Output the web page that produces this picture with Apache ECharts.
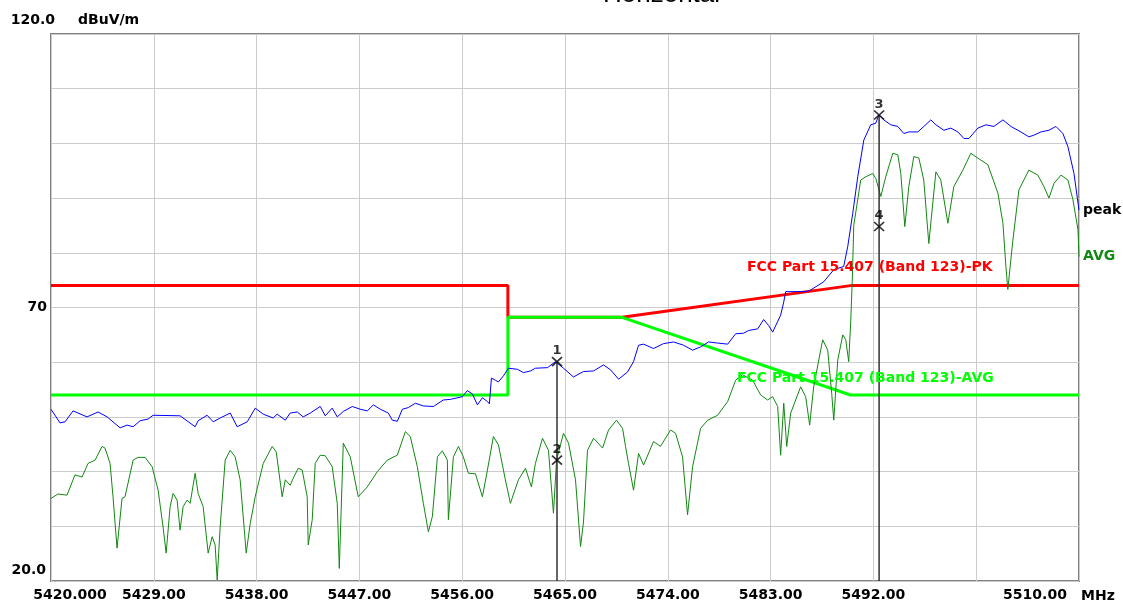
<!DOCTYPE html>
<html>
<head>
<meta charset="utf-8">
<script src="https://cdn.jsdelivr.net/npm/echarts@6/dist/echarts.min.js"></script>
<style>
  html, body { margin: 0; padding: 0; background: #fff; }
  #main { width: 1123px; height: 606px; }
</style>
</head>
<body>
<div id="main"></div>
<script>
// tick labels
var xTickLabels = ['5420.000', '5429.00', '5438.00', '5447.00', '5456.00', '5465.00',
  '5474.00', '5483.00', '5492.00', '', '5510.00'];
var yTickLabels = ['20.0', '', '', '', '', '70', '', '', '', '', '120.0'];

// peak trace (MHz, dBuV/m)
var peakFreq = [5420.00, 5420.79, 5421.23, 5421.93, 5423.15, 5424.12, 5424.91, 5426.05, 5426.66, 5427.19,
  5427.80, 5428.50, 5428.94, 5431.30, 5432.62, 5432.88, 5433.67, 5434.20, 5434.81, 5435.69,
  5436.30, 5437.18, 5437.88, 5438.58, 5439.45, 5439.80, 5440.51, 5440.94, 5441.56, 5442.08,
  5442.70, 5443.57, 5444.01, 5444.62, 5445.06, 5445.59, 5446.38, 5447.08, 5447.69, 5448.22,
  5448.83, 5449.53, 5449.88, 5450.32, 5450.76, 5451.28, 5451.90, 5452.60, 5453.48, 5454.35,
  5454.96, 5456.02, 5456.45, 5456.89, 5457.33, 5457.77, 5458.21, 5458.38, 5458.56, 5458.91,
  5459.17, 5459.61, 5460.05, 5460.84, 5461.36, 5461.98, 5462.41, 5463.46, 5464.17, 5464.87,
  5465.74, 5466.62, 5467.50, 5468.37, 5468.99, 5469.69, 5470.47, 5471.00, 5471.44, 5471.88,
  5472.75, 5473.63, 5474.51, 5475.38, 5476.17, 5476.87, 5477.57, 5478.36, 5479.24, 5479.94,
  5480.64, 5481.08, 5481.87, 5482.39, 5482.83, 5483.18, 5483.88, 5484.15, 5484.32, 5486.07,
  5486.51, 5487.65, 5488.53, 5489.40, 5489.75, 5490.19, 5490.63, 5491.16, 5491.77, 5492.21,
  5492.47, 5492.91, 5493.52, 5494.14, 5494.66, 5495.10, 5495.89, 5496.42, 5497.03, 5497.47,
  5498.17, 5498.78, 5499.39, 5499.92, 5500.36, 5501.15, 5501.85, 5502.55, 5503.34, 5504.04,
  5504.91, 5505.61, 5506.05, 5506.67, 5507.37, 5507.98, 5508.59, 5509.03, 5509.56, 5510.00];
var peakLevel = [51.4, 48.9, 49.1, 51.1, 50.0, 50.9, 50.0, 48.0, 48.5, 48.2,
  49.3, 49.6, 50.3, 50.2, 48.2, 49.3, 50.3, 49.1, 49.8, 50.7,
  48.2, 49.1, 51.6, 50.5, 49.8, 50.5, 49.4, 50.7, 50.9, 50.0,
  50.7, 51.9, 50.2, 51.6, 50.0, 51.0, 51.9, 51.4, 51.1, 52.2,
  51.4, 50.7, 49.4, 49.2, 51.4, 51.7, 52.5, 52.0, 51.9, 53.1,
  53.2, 53.7, 54.8, 54.2, 52.2, 53.5, 52.8, 52.4, 57.1, 56.7,
  56.4, 57.5, 58.9, 58.7, 58.1, 58.4, 58.9, 59.0, 60.1, 58.9,
  57.3, 58.3, 58.4, 59.5, 58.6, 56.9, 58.2, 60.1, 63.1, 63.3,
  62.5, 63.4, 63.7, 63.1, 62.2, 62.8, 63.7, 63.5, 63.3, 65.2,
  65.3, 65.8, 66.1, 67.8, 66.7, 65.5, 68.6, 71.0, 72.9, 72.9,
  73.2, 74.7, 76.9, 77.5, 81.1, 87.2, 93.9, 100.6, 103.4, 103.7,
  105.2, 104.3, 103.4, 103.1, 101.8, 102.1, 102.1, 103.1, 104.3, 103.4,
  102.4, 102.8, 102.1, 100.9, 100.9, 102.8, 103.4, 103.1, 104.3, 103.1,
  102.1, 101.2, 101.5, 102.1, 102.4, 103.1, 101.8, 99.4, 94.5, 87.8];

// average trace (MHz, dBuV/m)
var avgFreq = [5420.00, 5420.61, 5421.40, 5422.10, 5422.72, 5423.24, 5423.86, 5424.47, 5424.73, 5425.17,
  5425.43, 5425.78, 5426.22, 5426.48, 5427.19, 5427.62, 5428.24, 5428.85, 5429.38, 5429.81,
  5430.08, 5430.43, 5430.69, 5431.04, 5431.30, 5431.57, 5431.92, 5432.18, 5432.62, 5432.88,
  5433.32, 5433.76, 5434.11, 5434.37, 5434.55, 5434.81, 5435.25, 5435.69, 5436.12, 5436.56,
  5437.09, 5437.44, 5437.88, 5438.58, 5439.37, 5439.72, 5440.24, 5440.51, 5440.94, 5441.21,
  5441.64, 5441.99, 5442.43, 5442.52, 5442.87, 5443.13, 5443.57, 5444.01, 5444.62, 5445.06,
  5445.24, 5445.59, 5446.20, 5446.90, 5447.69, 5448.57, 5449.44, 5450.32, 5451.02, 5451.46,
  5452.07, 5452.60, 5453.04, 5453.39, 5453.83, 5454.26, 5454.70, 5454.79, 5455.23, 5455.67,
  5456.10, 5456.54, 5457.16, 5457.77, 5458.21, 5458.73, 5459.17, 5459.78, 5460.22, 5460.92,
  5461.54, 5462.06, 5462.41, 5463.03, 5463.55, 5463.99, 5464.26, 5464.87, 5465.31, 5465.92,
  5466.36, 5466.62, 5466.97, 5467.50, 5468.29, 5468.81, 5469.51, 5470.04, 5470.30, 5470.56,
  5471.00, 5471.44, 5471.88, 5472.75, 5473.36, 5474.24, 5474.68, 5475.29, 5475.73, 5476.17,
  5476.87, 5477.49, 5478.36, 5479.24, 5479.94, 5480.55, 5481.43, 5482.13, 5482.74, 5483.18,
  5483.62, 5483.88, 5484.15, 5484.41, 5484.76, 5485.63, 5486.07, 5486.42, 5486.77, 5487.56,
  5488.00, 5488.35, 5488.53, 5488.88, 5489.32, 5489.58, 5489.84, 5490.02, 5490.15, 5490.28,
  5490.89, 5491.33, 5491.94, 5492.21, 5492.65, 5493.08, 5493.70, 5494.14, 5494.40, 5494.75,
  5495.10, 5495.54, 5495.98, 5496.41, 5496.85, 5497.47, 5497.90, 5498.52, 5499.04, 5499.83,
  5500.53, 5501.15, 5502.02, 5502.90, 5503.34, 5503.60, 5503.77, 5504.21, 5504.74, 5505.61,
  5506.40, 5506.93, 5507.37, 5507.81, 5508.42, 5509.03, 5509.47, 5509.91, 5510.00];
var avgLevel = [35.1, 35.9, 35.7, 39.4, 39.0, 41.5, 42.1, 44.6, 44.3, 41.5,
  35.4, 26.0, 35.1, 35.4, 42.1, 42.6, 42.6, 40.9, 36.6, 29.9,
  25.1, 33.6, 36.0, 34.8, 29.3, 33.6, 34.8, 34.2, 39.7, 36.0,
  33.6, 25.1, 28.1, 26.6, 20.2, 29.9, 42.1, 43.9, 42.7, 38.5,
  25.1, 30.5, 35.4, 41.5, 44.6, 43.6, 35.4, 38.5, 37.5, 38.8,
  40.6, 40.3, 35.4, 26.6, 31.2, 41.5, 43.0, 42.9, 40.9, 34.2,
  22.3, 45.2, 42.7, 35.4, 37.2, 40.0, 42.1, 43.0, 47.3, 46.4,
  40.9, 34.2, 29.0, 31.8, 42.7, 43.8, 42.1, 31.2, 42.7, 44.6,
  42.7, 39.7, 39.6, 35.4, 40.3, 46.4, 44.9, 38.5, 34.2, 38.5,
  40.6, 37.2, 41.5, 46.1, 43.9, 32.4, 42.1, 47.0, 45.2, 38.5,
  26.3, 30.8, 43.9, 46.1, 44.3, 47.6, 49.4, 47.9, 44.6, 41.5,
  36.6, 43.3, 41.2, 45.5, 44.6, 47.6, 47.0, 42.7, 32.1, 40.9,
  47.9, 49.4, 50.3, 52.8, 56.7, 57.7, 56.7, 54.0, 53.1, 53.7,
  51.9, 43.0, 52.5, 44.6, 50.7, 55.5, 53.7, 48.5, 55.5, 64.1,
  62.2, 54.3, 49.4, 60.4, 65.0, 64.1, 60.1, 67.7, 75.0, 85.0,
  93.3, 93.9, 94.5, 93.6, 90.3, 93.9, 98.2, 97.9, 94.5, 84.8,
  92.1, 97.6, 97.3, 93.3, 81.7, 94.8, 93.3, 85.4, 92.1, 95.1,
  98.2, 97.3, 96.1, 90.9, 85.4, 77.5, 73.3, 82.3, 91.5, 95.1,
  94.2, 92.1, 90.0, 92.7, 94.2, 93.3, 89.7, 84.2, 79.3];

// FCC Part 15.407 limits
var limitFreq = [5420, 5460, 5460, 5470, 5490, 5510];
var pkLimit = [74, 74, 68.2, 68.2, 74, 74];
var avgLimit = [54, 54, 68.2, 68.2, 54, 54];

// markers
var markerName = ['1', '2', '3', '4'];
var markerFreq = [5464.3, 5464.3, 5492.5, 5492.5];
var markerLevel = [60.1, 42.1, 105.2, 84.8];

function pairs(xs, ys) {
  return xs.map(function (x, i) { return [x, ys[i]]; });
}

var FONT = 'DejaVu Sans';
var myChart = echarts.init(document.getElementById('main'));

var option = {
  animation: false,
  backgroundColor: '#fff',
  grid: {
    left: 51, right: 44, top: 34, bottom: 25,
    show: true, borderColor: '#808080', borderWidth: 2
  },
  xAxis: {
    type: 'value',
    min: 5420, max: 5510, interval: 9,
    name: 'MHz',
    nameLocation: 'end',
    nameGap: 2,
    nameTextStyle: { fontFamily: FONT, fontWeight: 'bold', fontSize: 14, color: '#000',
      align: 'left', verticalAlign: 'top', padding: [8, 0, 0, 0] },
    axisLine: { show: false },
    axisTick: { show: false },
    splitLine: { show: true, lineStyle: { color: '#cccccc', width: 1 } },
    axisLabel: {
      margin: 7,
      color: '#000',
      fontFamily: FONT, fontWeight: 'bold', fontSize: 14,
      formatter: function (v) {
        var i = Math.round((v - 5420) / 9);
        var s = xTickLabels[i] || '';
        if (i === 0) return '{f|' + s + '}';
        if (i === xTickLabels.length - 1) return '{l|' + s + '}';
        return s;
      },
      rich: {
        f: { fontFamily: FONT, fontWeight: 'bold', fontSize: 14, color: '#000', padding: [0, 0, 0, 38] },
        l: { fontFamily: FONT, fontWeight: 'bold', fontSize: 14, color: '#000', padding: [0, 88, 0, 0] }
      }
    }
  },
  yAxis: {
    type: 'value',
    min: 20, max: 120, interval: 10,
    name: 'dBuV/m',
    nameLocation: 'end',
    nameGap: 7,
    nameTextStyle: { fontFamily: FONT, fontWeight: 'bold', fontSize: 14, color: '#000',
      align: 'left', padding: [0, 0, 0, 27] },
    axisLine: { show: false },
    axisTick: { show: false },
    splitLine: { show: true, lineStyle: { color: '#cccccc', width: 1 } },
    axisLabel: {
      margin: -4,
      color: '#000',
      fontFamily: FONT, fontWeight: 'bold', fontSize: 14,
      formatter: function (v) {
        var i = Math.round((v - 20) / 10);
        var s = yTickLabels[i] || '';
        if (!s) return '';
        if (i === 0) return '{b|' + s + '}';
        if (i === yTickLabels.length - 1) return '{c|' + s + '}';
        return '{a|' + s + '}';
      },
      rich: {
        a: { fontFamily: FONT, fontWeight: 'bold', fontSize: 14, color: '#000', padding: [0, 8, 0, 0] },
        b: { fontFamily: FONT, fontWeight: 'bold', fontSize: 14, color: '#000', padding: [0, 9, 22, 0] },
        c: { fontFamily: FONT, fontWeight: 'bold', fontSize: 14, color: '#000', padding: [0, 0, 28, 0] }
      }
    }
  },
  graphic: [
    { type: 'text', left: 603, top: -18, z: 100,
      style: { text: 'Horizontal', font: 'normal 26px "Liberation Sans"', fill: '#000' } },
    { type: 'text', left: 747, top: 260, z: 100,
      style: { text: 'FCC Part 15.407 (Band 123)-PK', font: 'bold 14px "DejaVu Sans"', fill: '#ff0000' } },
    { type: 'text', left: 737, top: 371, z: 100,
      style: { text: 'FCC Part 15.407 (Band 123)-AVG', font: 'bold 14px "DejaVu Sans"', fill: '#00ff00' } }
  ],
  series: [
    {
      name: 'PK limit', type: 'line', data: pairs(limitFreq, pkLimit),
      showSymbol: false, silent: true, z: 2,
      lineStyle: { color: '#ff0000', width: 3 }
    },
    {
      name: 'AVG limit', type: 'line', data: pairs(limitFreq, avgLimit),
      showSymbol: false, silent: true, z: 3,
      lineStyle: { color: '#00ff00', width: 3 }
    },
    {
      name: 'peak', type: 'line', data: pairs(peakFreq, peakLevel),
      showSymbol: false, z: 4,
      lineStyle: { color: '#0000ff', width: 1 },
      endLabel: { show: true, formatter: 'peak', distance: 4, color: '#000',
        fontFamily: FONT, fontWeight: 'bold', fontSize: 14 }
    },
    {
      name: 'AVG', type: 'line', data: pairs(avgFreq, avgLevel),
      showSymbol: false, z: 4,
      lineStyle: { color: '#118811', width: 1 },
      endLabel: { show: true, formatter: 'AVG', distance: 4, color: '#118811',
        fontFamily: FONT, fontWeight: 'bold', fontSize: 14 }
    },
    {
      name: 'marker 1 line', type: 'line',
      data: [[markerFreq[0], markerLevel[0]], [markerFreq[0], 20]],
      showSymbol: false, z: 5,
      lineStyle: { color: '#333', width: 1.5 }
    },
    {
      name: 'marker 3 line', type: 'line',
      data: [[markerFreq[2], markerLevel[2]], [markerFreq[2], 20]],
      showSymbol: false, z: 5,
      lineStyle: { color: '#333', width: 1.5 }
    },
    {
      name: 'markers', type: 'scatter', z: 6,
      data: markerFreq.map(function (f, i) { return { value: [f, markerLevel[i]], name: markerName[i] }; }),
      symbol: 'path://M0 0L10 10M10 0L0 10',
      symbolSize: [10, 9],
      itemStyle: { color: 'transparent', borderColor: '#000', borderWidth: 1.6 },
      label: { show: true, position: 'top', distance: -1, formatter: '{b}', color: '#000',
        fontFamily: FONT, fontWeight: 'bold', fontSize: 13 }
    }
  ]
};

myChart.setOption(option);
</script>
</body>
</html>
